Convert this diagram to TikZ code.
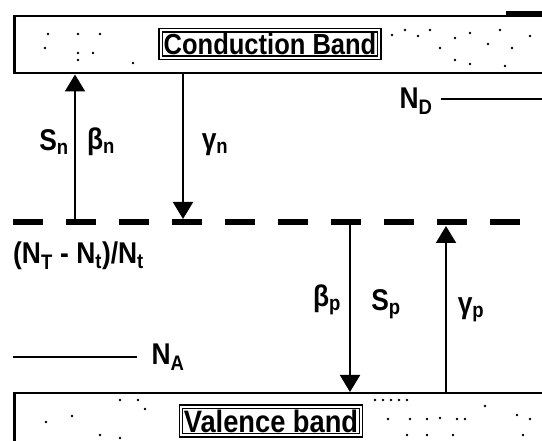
\documentclass[tikz,border=0pt]{standalone}
\usepackage{fontspec}
\setmainfont{Liberation Sans}
\newfontfamily\estrecha[FakeStretch=0.88]{Liberation Sans}
\usetikzlibrary{arrows.meta}

\tikzset{
  banda/.style={draw, line width=2.5pt, anchor=north west, minimum width=560pt, inner sep=0pt},
  rotulo/.style={draw, line width=1.2pt, double, double distance=2pt, fill=white, inner sep=3pt},
  etiq/.style={inner sep=0pt, font=\estrecha\bfseries\fontsize{30}{34}\selectfont},
  flecha/.style={line width=2pt, -{Triangle[width=20pt,length=17pt]}},
  trampa/.style={line width=6pt, dash pattern=on 30pt off 23pt},
  nivel/.style={line width=1.8pt}
}

\begin{document}
\begin{tikzpicture}[x=1pt,y=-1pt]
  \useasboundingbox (0,0) rectangle (542,441);

  % Bandas de conduccion y de valencia
  \node[banda, minimum height=57pt] (cb) at (13,15) {};
  \node[banda, minimum height=70pt] (vb) at (13,392) {};
  \draw[line width=4pt] (506,13) -- (545,13);

  % Puntos de textura en las bandas
  \foreach \x/\y in {48/34, 78/34, 100/34, 45/48, 78/53, 93/53, 78/60, 133/63,
      392/35, 405/30, 418/36, 430/30, 440/48, 455/38, 470/33, 488/44, 500/30, 512/48, 530/36, 455/60, 470/64, 505/66,
      120/400, 138/400, 145/409, 72/416, 46/422, 100/435, 120/438, 375/400, 383/400, 391/400, 399/400, 407/400,
      485/406, 388/419, 410/419, 427/419, 440/418, 457/419, 465/419, 517/415, 530/419, 407/435, 427/435, 453/435, 523/435}
    \fill (\x,\y) circle (1.4pt);

  \node[rotulo, font=\estrecha\bfseries\fontsize{29}{32}\selectfont] (cbl) at (270,44) {Conduction Band};
  \node[rotulo, font=\estrecha\bfseries\fontsize{31}{34}\selectfont] (vbl) at (271,421) {Valence band};

  % Nivel de trampas
  \coordinate (t0) at (13,222);
  \coordinate (t9) at (545,222);
  \draw[trampa] (t0) -- (t9);

  % Extremos de las flechas
  \coordinate (a1) at (75,222);
  \coordinate (a2) at (183,72);
  \coordinate (a2b) at (183,219);
  \coordinate (a3) at (350,222);
  \coordinate (a4) at (446,392);
  \coordinate (a4b) at (446,226);

  \foreach \from/\to in {a1/{a1 |- cb.south}, a2/a2b, a3/{a3 |- vb.north}, a4/a4b}
    \draw[flecha] (\from) -- (\to);

  % Etiquetas de las transiciones
  \node[etiq] (sn) at (54,142) {S\textsubscript{n}};
  \node[etiq] (bn) at (101,142) {β\textsubscript{n}};
  \node[etiq] (gn) at (215,145) {γ\textsubscript{n}};
  \node[etiq] (bp) at (327,300) {β\textsubscript{p}};
  \node[etiq] (sp) at (386,304) {S\textsubscript{p}};
  \node[etiq] (gp) at (471,310) {γ\textsubscript{p}};
  \node[etiq, anchor=west] (ocup) at (13,256) {(N\textsubscript{T} - N\textsubscript{t})/N\textsubscript{t}};

  % Niveles de donadores y aceptores
  \node[etiq] (nd) at (416,101) {N\textsubscript{D}};
  \coordinate (ndfin) at (545,99);
  \draw[nivel] (nd.east |- ndfin) ++(8,0) coordinate (ndini);
  \draw[nivel] (ndini) -- (ndfin);
  \node[etiq] (na) at (168,357) {N\textsubscript{A}};
  \coordinate (nafin) at (13,357);
  \draw[nivel] (na.west |- nafin) ++(-14,0) coordinate (naini);
  \draw[nivel] (naini) -- (nafin);
\end{tikzpicture}
\end{document}
